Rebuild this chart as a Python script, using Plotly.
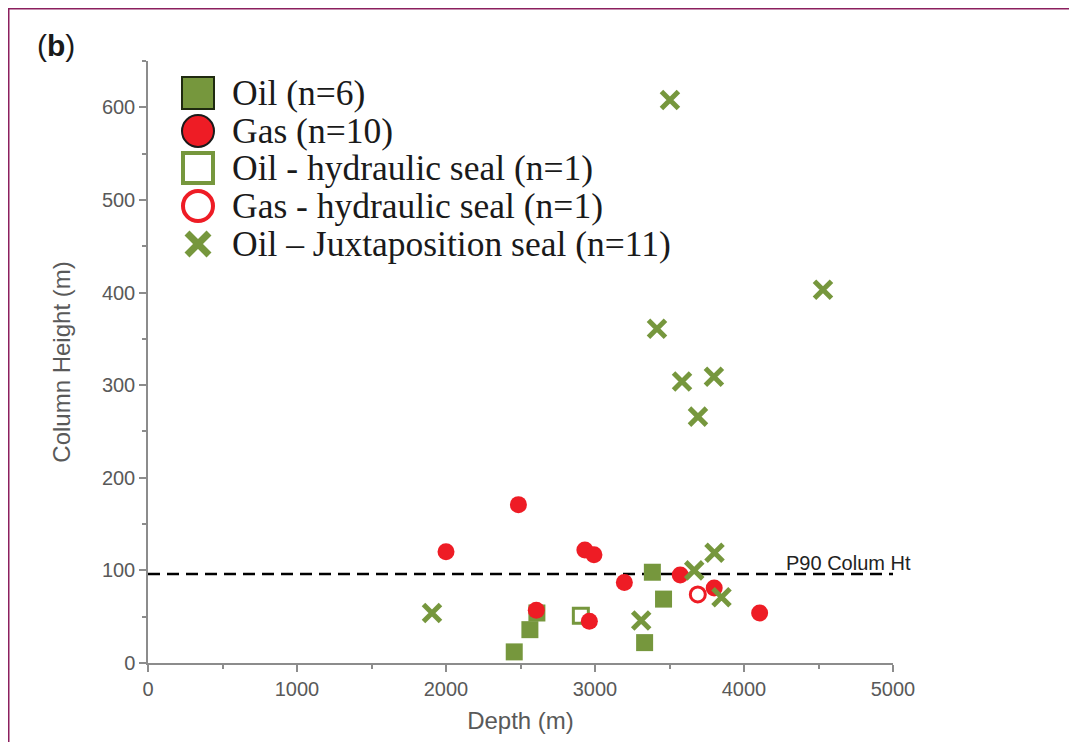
import plotly.graph_objects as go

# Depth (m) / column height (m)
oil_depth = [2458, 2563, 2610, 3385, 3460, 3333]
oil_height = [12, 36, 54, 98, 69, 22]

gas_depth = [2000, 2486, 2606, 2932, 2993, 2962, 3197, 3572, 3800, 4105]
gas_height = [120, 171, 57, 122, 117, 45, 87, 95, 81, 54]

oil_hyd_depth = [2905]
oil_hyd_height = [51]

gas_hyd_depth = [3690]
gas_hyd_height = [74]

juxt_depth = [1906, 3503, 3416, 3584, 3798, 3691, 4530, 3666, 3802, 3849, 3310]
juxt_height = [54, 608, 361, 304, 309, 266, 403, 100, 119, 71, 46]

p90_depth = [0, 5000]
p90_height = [96, 96]

legend_labels = ['Oil (n=6)', 'Gas (n=10)', 'Oil - hydraulic seal (n=1)',
                 'Gas - hydraulic seal (n=1)', 'Oil \u2013 Juxtaposition seal (n=11)']

GREEN = '#76973d'
RED = '#ee1c25'
GREY_TXT = '#595959'
AXIS = '#8c8c8c'

# plot area in figure pixels
L, T, PW, PH = 140, 53, 745, 602


def px_to_paper(x, y):
    return (x - L) / PW, 1 - (y - T) / PH


def main():
    fig = go.Figure()

    fig.add_trace(go.Scatter(
        x=p90_depth, y=p90_height, mode='lines', showlegend=False,
        line=dict(color='black', width=2.5, dash='12px,7px'), hoverinfo='skip'))

    fig.add_trace(go.Scatter(
        x=oil_depth, y=oil_height, mode='markers', name=legend_labels[0],
        marker=dict(symbol='square', size=17, color=GREEN, line=dict(width=0))))
    fig.add_trace(go.Scatter(
        x=oil_hyd_depth, y=oil_hyd_height, mode='markers', name=legend_labels[2],
        marker=dict(symbol='square-open', size=15, color=GREEN,
                    line=dict(color=GREEN, width=3))))
    fig.add_trace(go.Scatter(
        x=gas_depth, y=gas_height, mode='markers', name=legend_labels[1],
        marker=dict(symbol='circle', size=17, color=RED, line=dict(width=0))))
    fig.add_trace(go.Scatter(
        x=gas_hyd_depth, y=gas_hyd_height, mode='markers', name=legend_labels[3],
        marker=dict(symbol='circle-open', size=15, color=RED,
                    line=dict(color=RED, width=3))))
    fig.add_trace(go.Scatter(
        x=juxt_depth, y=juxt_height, mode='markers', name=legend_labels[4],
        marker=dict(symbol='x-thin-open', size=17, color=GREEN,
                    line=dict(color=GREEN, width=5))))

    axis_common = dict(
        showline=True, linecolor=AXIS, linewidth=1.5,
        ticks='outside', ticklen=7, tickcolor=AXIS, tickwidth=1.5,
        showgrid=False, zeroline=False,
        tickfont=dict(family='Liberation Sans, Arial', size=20, color=GREY_TXT),
    )
    title_font = dict(family='Liberation Sans, Arial', size=24, color=GREY_TXT)

    fig.update_xaxes(
        range=[0, 5000], dtick=1000, tick0=0,
        minor=dict(ticks='outside', dtick=500, ticklen=4, tickcolor=AXIS),
        title=dict(text='Depth (m)', standoff=13, font=title_font),
        **axis_common)
    fig.update_yaxes(
        range=[0, 650], dtick=100, tick0=0,
        minor=dict(ticks='outside', dtick=50, ticklen=4, tickcolor=AXIS),
        title=dict(text='Column Height (m)', standoff=24, font=title_font),
        **axis_common)

    fig.add_annotation(
        x=4270, y=108, xref='x', yref='y', xanchor='left', yanchor='middle',
        text='P90 Colum Ht', showarrow=False,
        font=dict(family='Liberation Sans, Arial', size=20, color='#222222'))

    bx, by = px_to_paper(27, 37)
    fig.add_annotation(
        x=bx, y=by, xref='paper', yref='paper', xanchor='left', yanchor='middle',
        text='(<b>b</b>)', showarrow=False,
        font=dict(family='Liberation Sans, Arial', size=30, color='#1a1a1a'))

    # legend drawn as keys + labels so its size and spacing match the figure
    key_x = 190
    rows = [85, 123, 160, 198, 236]
    keys = [
        dict(type='rect', x0=-16, x1=16, y0=-16, y1=16,
             fillcolor=GREEN, line=dict(color='#1f2a10', width=2)),
        dict(type='circle', x0=-16, x1=16, y0=-16, y1=16,
             fillcolor=RED, line=dict(color='#1a1a1a', width=2)),
        dict(type='rect', x0=-15, x1=15, y0=-15, y1=15,
             fillcolor='white', line=dict(color=GREEN, width=4)),
        dict(type='circle', x0=-15, x1=15, y0=-15, y1=15,
             fillcolor='white', line=dict(color=RED, width=4)),
        dict(type='path', path='M-11,-11 L11,11 M-11,11 L11,-11',
             line=dict(color=GREEN, width=7)),
    ]
    for label, yy, key in zip(legend_labels, rows, keys):
        ax, ay = px_to_paper(key_x, yy)
        fig.add_shape(xref='paper', yref='paper', xsizemode='pixel',
                      ysizemode='pixel', xanchor=ax, yanchor=ay, **key)
        tx, _ = px_to_paper(222, yy)
        fig.add_annotation(
            x=tx, y=ay, xref='paper', yref='paper', xanchor='left',
            yanchor='middle', text=label, showarrow=False,
            font=dict(family='Liberation Serif, Times New Roman', size=35.5,
                      color='#1a1a1a'))

    # purple frame (only top and left edges show in the figure)
    fx0, fy0 = px_to_paper(0, 0)
    fig.add_shape(type='line', xref='paper', yref='paper',
                  x0=fx0, x1=1.4, y0=fy0, y1=fy0,
                  line=dict(color='#8b1f5e', width=3))
    fig.add_shape(type='line', xref='paper', yref='paper',
                  x0=fx0, x1=fx0, y0=-0.3, y1=fy0,
                  line=dict(color='#8b1f5e', width=3))

    fig.update_layout(
        width=1069, height=734,
        margin=dict(l=L, r=1069 - L - PW, t=T, b=734 - T - PH),
        plot_bgcolor='white', paper_bgcolor='white',
        showlegend=False,
    )

    fig.write_html('out.html')


if __name__ == '__main__':
    main()
